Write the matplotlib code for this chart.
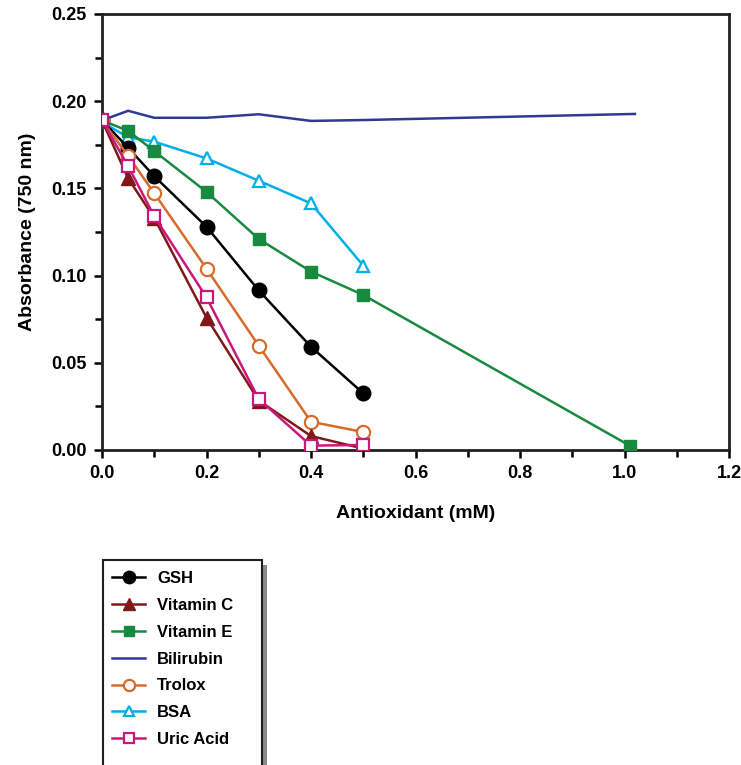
import matplotlib
matplotlib.use("Agg")
import matplotlib.pyplot as plt
from matplotlib.ticker import MultipleLocator
from matplotlib.patches import Rectangle

plt.rcParams['font.family'] = ['Liberation Sans', 'DejaVu Sans']
plt.rcParams['font.weight'] = 'bold'

x_std = [0, 0.05, 0.1, 0.2, 0.3, 0.4, 0.5]
gsh = [0.189, 0.1733, 0.157, 0.128, 0.0915, 0.0592, 0.0325]
vitc = [0.189, 0.1558, 0.133, 0.0759, 0.0283, 0.008, 0.0008]
x_vite = [0, 0.05, 0.1, 0.2, 0.3, 0.4, 0.5, 1.01]
vite = [0.189, 0.183, 0.1714, 0.148, 0.121, 0.1023, 0.0889, 0.0025]
x_bili = [0, 0.05, 0.1, 0.2, 0.25, 0.3, 0.4, 0.5, 1.02]
bili = [0.189, 0.1945, 0.1905, 0.1905, 0.1915, 0.1925, 0.1887, 0.1892, 0.1927]
trolox = [0.189, 0.1686, 0.1472, 0.104, 0.0598, 0.0162, 0.0103]
bsa = [0.188, 0.1793, 0.1768, 0.1672, 0.1544, 0.1414, 0.1057]
uric = [0.189, 0.1628, 0.134, 0.0875, 0.0292, 0.0025, 0.0029]

fig = plt.figure(figsize=(7.41, 7.65), dpi=100)
ax = fig.add_axes([102/741, 1-450/765, (729-102)/741, (450-14)/765])

lw = 1.8
ax.plot(x_bili, bili, color='#2f3a92', lw=lw, label='Bilirubin', zorder=2)
ax.plot(x_std, bsa, color='#00aee8', lw=lw, marker='^', ms=9, mfc='white', mec='#00aee8', mew=1.6, label='BSA', zorder=3)
ax.plot(x_vite, vite, color='#188a3f', lw=lw, marker='s', ms=9, label='Vitamin E', zorder=4)
ax.plot(x_std, gsh, color='black', lw=lw, marker='o', ms=10.5, label='GSH', zorder=5)
ax.plot(x_std, trolox, color='#d86a2c', lw=lw, marker='o', ms=9.5, mfc='white', mec='#d86a2c', mew=1.6, label='Trolox', zorder=6)
ax.plot(x_std, vitc, color='#801818', lw=lw, marker='^', ms=9.5, label='Vitamin C', zorder=7)
ax.plot(x_std, uric, color='#c8197b', lw=lw, marker='s', ms=8.5, mfc='white', mec='#c8197b', mew=1.6, label='Uric Acid', zorder=8)

ax.set_xlim(0, 1.2)
ax.set_ylim(0, 0.25)
ax.xaxis.set_major_locator(MultipleLocator(0.2))
ax.xaxis.set_minor_locator(MultipleLocator(0.1))
ax.yaxis.set_major_locator(MultipleLocator(0.05))
ax.yaxis.set_minor_locator(MultipleLocator(0.025))
ax.set_xticklabels([f'{v:.1f}' for v in ax.get_xticks()])
ax.set_yticklabels([f'{v:.2f}' for v in ax.get_yticks()])
ax.tick_params(which='major', direction='out', length=6, width=1.8, labelsize=13, pad=5)
ax.tick_params(which='minor', direction='out', length=5, width=1.8)
for lab in ax.get_xticklabels() + ax.get_yticklabels():
    lab.set_fontweight('bold')
for s in ax.spines.values():
    s.set_linewidth(2)
    s.set_color('#231f20')
ax.set_xlabel('Antioxidant (mM)', fontsize=14, fontweight='bold', labelpad=16)
ax.set_ylabel('Absorbance (750 nm)', fontsize=14, fontweight='bold', labelpad=11)

# legend frame with shadow (box runs past the bottom of the figure)
bx0, by0, bx1 = 103/741, 1-560/765, 262/741
shadow = Rectangle((bx0 + 5/741, -0.05), bx1 - bx0, by0 + 0.05 - 5/765, transform=fig.transFigure,
                   facecolor='#8a8a8a', edgecolor='none', zorder=1)
frame = Rectangle((bx0, -0.05), bx1 - bx0, by0 + 0.05, transform=fig.transFigure,
                  facecolor='white', edgecolor='#231f20', lw=1.5, zorder=2)
fig.patches.extend([shadow, frame])

handles, labels = ax.get_legend_handles_labels()
order = ['GSH', 'Vitamin C', 'Vitamin E', 'Bilirubin', 'Trolox', 'BSA', 'Uric Acid']
hmap = dict(zip(labels, handles))
leg = fig.legend([hmap[k] for k in order], order, loc='upper left',
                 bbox_to_anchor=(112/741, 1-571/765), bbox_transform=fig.transFigure,
                 frameon=False, prop={'weight': 'bold', 'size': 12}, handlelength=2.0,
                 handletextpad=0.7, labelspacing=0.71, borderpad=0, borderaxespad=0,
                 markerscale=0.85)
leg.set_zorder(5)

fig.savefig('out.png', dpi=100)
